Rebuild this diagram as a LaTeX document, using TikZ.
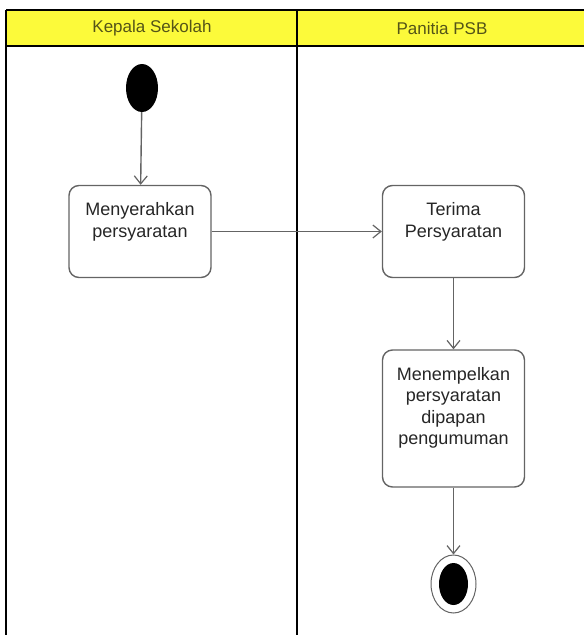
\documentclass[tikz,border=0pt]{standalone}
\usepackage{fontspec}
\setmainfont{Liberation Sans}
\usetikzlibrary{arrows.meta,shapes.geometric}
\definecolor{laneyellow}{RGB}{252,250,58}
\definecolor{headtext}{RGB}{84,84,24}
\definecolor{flowgray}{RGB}{100,100,100}
\newcommand{\acttext}[2]{\parbox[c][#1][t]{129pt}{\centering\rule{0pt}{30pt}#2}}
\begin{document}
\begin{tikzpicture}[x=1pt,y=-1pt]

		\tikzset{
		  lane/.style={draw=black,line width=2.2pt},
		  swimhead/.style={anchor=center,text=headtext,font=\fontsize{17}{20}\selectfont},
		  action/.style={
			draw=flowgray,
			fill=white,
			line width=1.4pt,
			rounded corners=10pt,
			inner xsep=6.5pt,
			inner ysep=0pt,
			text=black!85,
			font=\fontsize{18}{21.5}\selectfont,
		  },
		  flow/.style={draw=flowgray,line width=1.4pt,-{Straight Barb[length=8pt,width=13pt,line width=1.2pt]}},
		  initnode/.style={ellipse,fill=black,inner sep=0pt,minimum width=32pt,minimum height=48pt},
		  finalnode/.style={ellipse,draw=flowgray,line width=1pt,fill=white,inner sep=0pt,minimum width=45pt,minimum height=58pt},
		}
		\useasboundingbox (0,0) rectangle (584,635);
		% swimlanes
		\fill[color={laneyellow}] (6,10) rectangle (584,46);
		\draw[lane] (6,10)--(584,10);
		\draw[lane] (6,46)--(584,46);
		\draw[lane] (6,10)--(6,635);
		\draw[lane] (297,10)--(297,635);
		\node[swimhead] (kepala) at (152,28) {Kepala Sekolah};
		\node[swimhead] (panitia) at (442,28) {Panitia PSB};
		% activities
		\node[initnode] (start) at (142,88) {};
		\node[action] (serah) at (140,231.5) {\acttext{92pt}{Menyerahkan\\persyaratan}};
		\node[action] (terima) at (453.5,231.5) {\acttext{92pt}{Terima\\Persyaratan}};
		\node[action] (tempel) at (453.5,418.5) {\acttext{137pt}{Menempelkan\\persyaratan\\dipapan\\pengumuman}};
		\node[finalnode] (finish) at (453.5,584) {};
		\fill[color={black}] (finish.center) ellipse (14.5pt and 21pt);
		% flows
		\draw[flow] (start) -- (serah);
		\draw[flow] (serah) -- (terima);
		\draw[flow] (terima.south) -- (tempel.north);
		\draw[flow] (tempel.south) -- (finish.north);

\end{tikzpicture}
\end{document}
